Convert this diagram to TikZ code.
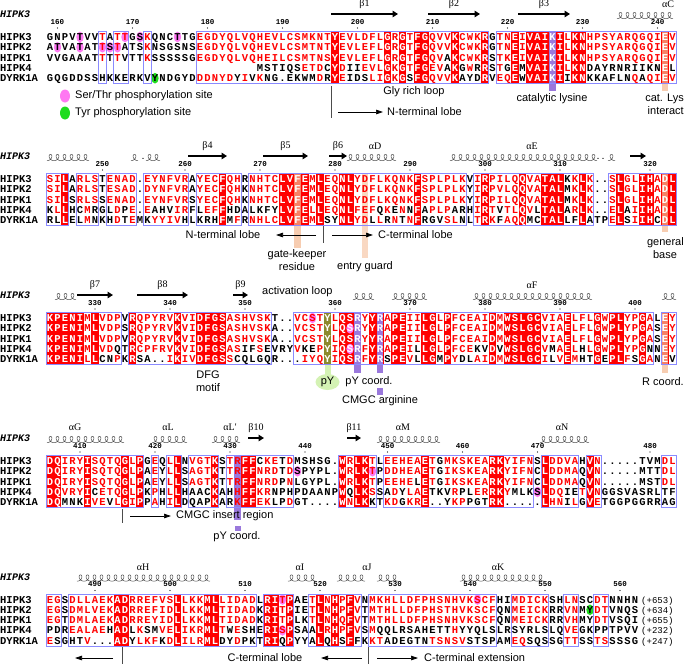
\documentclass[tikz,border=0pt]{standalone}
\usepackage{fontspec}
\setmainfont{Liberation Sans}
\newfontfamily\seqfont{Liberation Mono}
\newfontfamily\ssfont{Liberation Serif}
\usetikzlibrary{arrows.meta}

\definecolor{espred}{HTML}{FF0000}
\definecolor{boxblue}{HTML}{8A8AFF}
\definecolor{phospho}{HTML}{FF78F2}
\definecolor{tyrgreen}{HTML}{1EDC1E}
\definecolor{lysine}{HTML}{9A78DC}
\definecolor{peach}{HTML}{F4B890}
\definecolor{olivecol}{HTML}{8C8A2C}
\definecolor{palegreen}{HTML}{D4F2B4}

\tikzset{
  res/.style={inner sep=0pt, anchor=base, font=\seqfont\bfseries\fontsize{10.5}{12}\selectfont},
  seqname/.style={inner sep=0pt, anchor=base west, font=\seqfont\bfseries\fontsize{10.5}{12}\selectfont},
  seqtitle/.style={inner sep=0pt, anchor=base west, font=\seqfont\bfseries\itshape\fontsize{10}{12}\selectfont},
  resnum/.style={inner sep=0pt, font=\seqfont\bfseries\fontsize{7.5}{8}\selectfont},
  extra/.style={inner sep=0pt, anchor=base west, font=\seqfont\fontsize{9}{10}\selectfont},
  seqbox/.style={draw=boxblue, line width=0.6pt},
  strand/.style={line width=1.7pt, -{Triangle[length=5.5pt,width=6.5pt]}},
  helixline/.style={line width=0.5pt, black!70},
  sslabel/.style={font=\ssfont\fontsize{10}{11}\selectfont, inner sep=0pt},
  annot/.style={font=\fontsize{11}{13}\selectfont, inner sep=0pt},
  lobe/.style={line width=0.7pt, -{Triangle[length=7pt,width=4.5pt]}},
  divider/.style={line width=0.6pt, black!70}
}

% one residue row: uppercase = red letter, lowercase = black, _ = blank
\makeatletter
\newcount\rescol
\def\seqrow#1#2{\rescol=0\relax\def\rowy{#1}\seq@scan#2\relax}
\def\seq@scan#1{\ifx\relax#1\else\seq@char#1\advance\rescol by 1\relax\expandafter\seq@scan\fi}
\def\seq@char#1{%
  \ifx_#1\else
  \ifx.#1\node[res] at ({50+7.5*\the\rescol},{\rowy+3.5}) {.};\else
    \edef\seq@tmp{\noexpand\in@{,\the\rescol,}{,\redcols,}}\seq@tmp
    \ifin@\def\seq@col{white}\else
      \ifnum`#1<`a \def\seq@col{espred}\else\def\seq@col{black}\fi
    \fi
    \uppercase{\def\seq@ch{#1}}%
    \node[res,text=\seq@col] at ({50+7.5*\the\rescol},{\rowy+3.5}) {\seq@ch};%
  \fi\fi}
\makeatother

\newcommand\seqblock[5]{%
  \node[seqtitle] at (0,\yb-23+3.5) {HIPK3};
  \node[seqname] at (0,\yb+3.5) {HIPK3};
  \node[seqname] at (0,\yb+10.3+3.5) {HIPK2};
  \node[seqname] at (0,\yb+20.6+3.5) {HIPK1};
  \node[seqname] at (0,\yb+30.9+3.5) {HIPK4};
  \node[seqname] at (0,\yb+41.2+3.5) {DYRK1A};
  \seqrow{\yb}{#1}\seqrow{\yb+10.3}{#2}\seqrow{\yb+20.6}{#3}%
  \seqrow{\yb+30.9}{#4}\seqrow{\yb+41.2}{#5}}
\newcommand\redbg{\foreach \c in \redcols {\fill[espred] ({46.25+7.5*\c},\yb-5.5) rectangle ({53.75+7.5*\c},\yb+46.7);}}
\newcommand\ticks[1]{\foreach \c/\n in {#1} {\node[resnum] at ({50+7.5*\c},\yb-15) {\n};
  \fill ({50+7.5*\c},\yb-9) circle (0.55);}}
% helix drawn as a looped trochoid, about 7pt per turn
\newcommand\hx[2]{\pgfmathsetmacro\nloop{max(1,round((#2-#1)/7))}
  \draw[helixline] plot[domain=pi:{pi+2*pi*\nloop}, samples={28*\nloop+1}, smooth]
    ({#1+1.114*(\x-pi)-2.9*sin(\x r)},{\yb-21.5-3.2*cos(\x r)});}
\newcommand\bstrand[3]{\draw[strand] (#1,\yb-23) -- (#2,\yb-23);
  \node[sslabel] at ({(#1+#2)/2},\yb-33) {#3};}
\newcommand\site[3]{\fill[#3] ({50+7.5*#2},{\yb+10.3*#1}) ellipse (3.7 and 5.3);}
\newcommand\colbar[3]{\fill[#3] ({46.75+7.5*#1},\yb-5.5) rectangle ({53.25+7.5*#1},#2);}

\begin{document}
\begin{tikzpicture}[x=1pt,y=-1pt]
\useasboundingbox (0,0) rectangle (685,664);

% ---------------- block 1 (159-242)
\def\yb{37}
\def\redcols{38,45,47,49,50,54,58,62,64,65,66,67,68,70,71,82}
\redbg
\colbar{67}{91}{lysine}
\colbar{82}{91}{peach,opacity=0.7}
\foreach \c in {4,10,12,17} {\site{0}{\c}{phospho}}
\foreach \c in {1,4,7,8,9} {\site{1}{\c}{phospho}}
\site{4}{14}{tyrgreen}
\foreach \a/\b in {7/7,9/10,13/13,20/58,60/83}
  {\draw[seqbox] ({46.25+7.5*\a},\yb-5.5) rectangle ({53.75+7.5*\b},\yb+46.7);}
\ticks{1/160,11/170,21/180,31/190,41/200,51/210,61/220,71/230,81/240}
\bstrand{331}{398}{β1}
\bstrand{428}{480}{β2}
\bstrand{518}{570}{β3}
\hx{617}{673}
\node[sslabel] at (668,4) {αC};
\seqblock
{gnpvtvvTaTTgsKqncttgEGDYQLVQHEVLCSMKNTYEVLDFLGRGTFGQVVKCWKRgTNEIVAIKILKNHPSYARQGQIEV}
{atvatatTsTatsKnsgsnsEGDYQLVQHEVLCSMTNTYEVLEFLGRGTFGQVVKCWKRgTNEIVAIKILKNHPSYARQGQIEV}
{vvgaaatTtTvttKsssssgEGDYQLVQHEILCSMTNSYEVLEFLGRGTFGQVaKCWKRsTKEIVAIKILKNHPSYARQGQIEV}
{____________________________mstiqsETDcYDiiEVLGKGTFGEVaKgWrRsTgEmVAIKILKNdayrnriiknEl}
{gqgddsshkkerkvyndgydDDNYDyIvKng.ekwmDrYEidsLIGKGsFGQVVKaydRvEQEwVAIKIiKNkkaflnQaQIEV}
\fill[phospho] (65,96) ellipse (5 and 6.5);
\node[annot, anchor=west] at (75,96) {Ser/Thr phosphorylation site};
\fill[tyrgreen] (65,113) ellipse (5 and 6.5);
\node[annot, anchor=west] at (75,113) {Tyr phosphorylation site};
\node[annot] at (414,92) {Gly rich loop};
\node[annot] at (552,99) {catalytic lysine};
\node[annot, anchor=east] at (684,99) {cat. Lys};
\node[annot, anchor=east] at (684,111) {interact};
\draw[divider] (331,86) -- (331,118);
\draw[lobe] (338,112) -- (383,112);
\node[annot, anchor=west] at (387,112) {N-terminal lobe};

% ---------------- block 2 (243-323)
\def\yb{179}
\def\redcols{2,23,31,32,33,34,36,39,40,49,58,63,66,67,68,71,76,79,80,82,83}
\redbg
\colbar{33}{248}{peach,opacity=0.7}
\colbar{42}{258}{peach,opacity=0.55}
\colbar{82}{232}{peach,opacity=0.7}
\foreach \a/\b in {0/2,4/6,8/11,13/18,20/25,27/55,57/72,75/83}
  {\draw[seqbox] ({46.25+7.5*\a},\yb-5.5) rectangle ({53.75+7.5*\b},\yb+46.7);}
\ticks{7/250,18/260,28/270,38/280,48/290,58/300,68/310,80/320}
\hx{47}{91}
\hx{131}{139} \node[resnum] at (143,\yb-20) {.}; \hx{146}{158}
\bstrand{188}{227}{β4}
\bstrand{263}{308}{β5}
\bstrand{329}{347}{β6}
\hx{347}{398} \node[sslabel] at (375,\yb-33) {αD};
\hx{450}{594} \node[resnum] at (598,\yb-20) {.}; \node[resnum] at (603,\yb-20) {.}; \hx{608}{615}
\node[sslabel] at (532,\yb-33) {αE};
\draw[strand] (630,\yb-23) -- (646,\yb-23);
\seqblock
{SILaRLStENAD.EYNFVRaYECFQHrNHTCLVFEMLEQNLYDFLKQNKFSPLPLKvIRPILQQVATALkKLK..SLGLIHADL}
{SILaRLStESAD.DYNFVRaYECFQHkNHTCLVFEMLEQNLYDFLKQNKFSPLPLKyIRPVLQQVATALmKLK..SLGLIHADL}
{SILsRLSsENAD.EYNFVRsYECFQHkNHTCLVFEMLEQNLYDFLKQNKFSPLPLKyIRPILQQVATALmKLK..SLGLIHADL}
{kLLhcMrglDpE.EahvIRflEFFhdalkfyLVFELLEQNLFEFqKeNnFaPLParhIRTvTLQVlTALaRLK..ELaIIHADL}
{rlLelMnkhDtEmkYYIVhlkrhFmFrNHLCLVFEMLsyNLYDlLrNtNFrgvSLnlTRKfAQQmcTALlfLatpELsIIHcDL}
\node[annot] at (223,235) {N-terminal lobe};
\draw[lobe] (316,235) -- (276,235);
\draw[divider] (323,226) -- (323,243);
\draw[lobe] (332,235) -- (373,235);
\node[annot, anchor=west] at (378,235) {C-terminal lobe};
\node[annot] at (297,255) {gate-keeper};
\node[annot] at (297,267) {residue};
\node[annot] at (365,267) {entry guard};
\node[annot, anchor=east] at (684,243) {general};
\node[annot] at (665,255) {base};

% ---------------- block 3 (324-405)
\def\yb{318}
\def\redcols{0,1,2,3,4,6,11,17,20,21,22,23,37,39,40,41,43,44,46,47,50,51,53,59,61,62,63,64,65,69,73,75,76,79,82}
\redbg
\colbar{37}{\yb+46.7}{olivecol}
\fill[palegreen] (324.5,\yb+46.7) rectangle (330.5,376);
\fill[palegreen] (327.5,382) ellipse (12 and 8);
\node[annot] at (327.5,382) {pY};
\colbar{41}{373}{lysine}
\colbar{44}{373}{lysine}
\fill[lysine] (377,388) rectangle (383,395);
\colbar{82}{373}{peach,opacity=0.7}
\site{0}{35}{phospho}
\site{1}{40}{phospho}
\site{3}{40}{phospho}
\foreach \a/\b in {0/9,11/29,33/80,82/83}
  {\draw[seqbox] ({46.25+7.5*\a},\yb-5.5) rectangle ({53.75+7.5*\b},\yb+46.7);}
\ticks{6/330,16/340,26/350,38/360,48/370,58/380,68/390,78/400}
\hx{55}{76}
\bstrand{77}{113}{β7}
\bstrand{137}{188}{β8}
\bstrand{233}{248}{β9}
\node[annot, anchor=west] at (262,292) {activation loop};
\hx{353}{377}
\hx{392}{428}
\hx{473}{594} \node[sslabel] at (532,\yb-33) {αF};
\hx{662}{676}
\seqblock
{KPENIMLVDPvRQPYRVKVIDFGSASHVSKt..VCSTYLQSRYYRAPEIILGLPFCEAIDMWSLGCVIAELFLGWPLYPGAlEY}
{KPENIMLVDPsRQPYRVKVIDFGSASHVSKa..VCSTYLQSRYYRAPEIILGLPFCEAIDMWSLGCVIAELFLGWPLYPGAsEY}
{KPENIMLVDPvRQPYRVKVIDFGSASHVSKa..VCSTYLQSRYYRAPEIILGLPFCEAIDMWSLGCVIAELFLGWPLYPGAsEY}
{KPENIMLVDqtRCPFRVKVIDFGSASifSevryVkePYIQSRFYRAPEIlLGLPFCEkvDvWSLGCVmAELhLGWPLYPGnnEY}
{KPENILLcnPkRsa..IKIVDFGSScqlgqr...IYQYIQSRFYRsPEVlLGmPYdlAIDMWSLGCIlVEMhtGePLFsGAnEv}
\node[annot] at (208,375) {DFG};
\node[annot] at (208,388) {motif};
\node[annot] at (369,382) {pY coord.};
\node[annot] at (380,401) {CMGC arginine};
\node[annot, anchor=east] at (684,382) {R coord.};

% ---------------- block 4 (406-483)
\def\yb{461}
\def\redcols{0,1,5,10,12,17,22,26,27,39,41,42,50,59,60,66,72}
\redbg
\colbar{25}{520}{lysine}
\fill[lysine] (234.5,526) rectangle (240.5,531);
\site{1}{33}{phospho}
\site{1}{43}{phospho}
\site{3}{65}{phospho}
\foreach \a/\b in {0/12,14/14,16/17,19/22,24/32,39/43,45/64,66/70,72/73,82/83}
  {\draw[seqbox] ({46.25+7.5*\a},\yb-5.5) rectangle ({53.75+7.5*\b},\yb+46.7);}
\ticks{4/410,14/420,24/430,34/440,45/450,55/460,65/470,80/480}
\hx{47}{121} \node[sslabel] at (75,\yb-34) {αG};
\hx{152}{189} \node[sslabel] at (168,\yb-34) {αL};
\hx{212}{240} \node[sslabel] at (230,\yb-34) {αL'};
\bstrand{248}{264}{β10}
\bstrand{347}{361}{β11}
\hx{377}{438} \node[sslabel] at (403,\yb-34) {αM};
\hx{540}{586} \node[sslabel] at (562,\yb-34) {αN};
\seqblock
{DQIRYISQTQGLPgEqLLnVGTKsTRFFcKEtDmshsg.WRLKTlEEHEAETgMKSKEARKYIFNsLDDVAhVN.....tvmDL}
{DQIRYISQTQGLPaEyLLsAGTKtTRFFNRDtDspypl.WRLKTpDDHEAETgIKSKEARKYIFNcLDDMAqVN.....mttDL}
{DQIRYISQTQGLPaEyLLsAGTKtTRFFNRDpNlgypl.WRLKTpEEHElETgIKSKEARKYIFNcLDDMAqVN.....mstDL}
{DQVRYIcETQGLPkPhLLhaacKahHFFKRnphpdaanpWqLKSsaDyLAEtkvRplERRKYmlksLDQieTVNggsvasrltf}
{DQmnkIVEvLGIPpAhILdqapKarKFFEKlpDgt....WNLKktKDgKRE..yKPpgtRK.....LHNiLgVEtggpggrrag}
\draw[divider] (122,509) -- (122,523);
\draw[lobe] (130,516) -- (171,516);
\node[annot, anchor=west] at (176,516) {CMGC insert region};
\node[annot] at (237,537) {pY coord.};

% ---------------- block 5 (484-)
\def\yb{599.5}
\def\redcols{9,10,17,21,22,29,30,32,36,38,40}
\redbg
\site{0}{31}{phospho}
\site{3}{31}{phospho}
\site{0}{57}{phospho}
\site{1}{72}{tyrgreen}
\foreach \a/\b in {0/1,3/27,29/32,35/41,43/59,62/66,69/70,73/74}
  {\draw[seqbox] ({46.25+7.5*\a},\yb-5.5) rectangle ({53.75+7.5*\b},\yb+46.7);}
\ticks{6/490,16/500,26/510,36/520,46/530,56/540,66/550,76/560}
\hx{77}{211} \node[sslabel] at (143,\yb-32) {αH};
\hx{288}{316} \node[sslabel] at (300,\yb-32) {αI};
\hx{337}{368} \node[sslabel] at (367,\yb-32) {αJ};
\hx{377}{398}
\hx{460}{541} \node[sslabel] at (498,\yb-32) {αK};
\seqblock
{EGsDLLAEKADRREFVSLLKKMLLIDADlRITPaeTLNHPFVnMKHLLDFPHSNHVKSCFhiMDICKshLNscDTnnhn}
{EGsDMLVEKADRREFIDLLKKMLTIDADkRITPieTLNHPFVtMTHLLDFPHSTHVKSCFqnMEICKrrVNmyDTvnqs}
{EGtDMLAEKADRREYIDLLKKMLTIDADkRITPlkTLNHQFVtMTHLLDFPHSNHVKSCFqnMEICKrrVHmyDTvsqi}
{pdrEALAEhADlKsmVELIKRMLTwEsheRISPsaaLRHPFVsMqqlrsahettHyyqlslrsyrlslqVEgkpptpvv}
{EsghtV...ADyLKFkDLILRMLdyDpktRIqPyyaLqHsFfkKTadegtnTSNSVstspamEQsqssgTTssTSsssg}
\node[extra] at (641,\yb+3.5) {(+653)};
\node[extra] at (641,\yb+10.3+3.5) {(+634)};
\node[extra] at (641,\yb+20.6+3.5) {(+655)};
\node[extra] at (641,\yb+30.9+3.5) {(+232)};
\node[extra] at (641,\yb+41.2+3.5) {(+247)};
\draw[lobe] (113,658) -- (75,658);
\draw[divider] (122,647) -- (122,664);
\node[annot] at (265,658) {C-terminal lobe};
\draw[lobe] (362,658) -- (321,658);
\draw[divider] (368,647) -- (368,664);
\draw[lobe] (377,658) -- (418,658);
\node[annot, anchor=west] at (424,658) {C-terminal extension};
\end{tikzpicture}
\end{document}
